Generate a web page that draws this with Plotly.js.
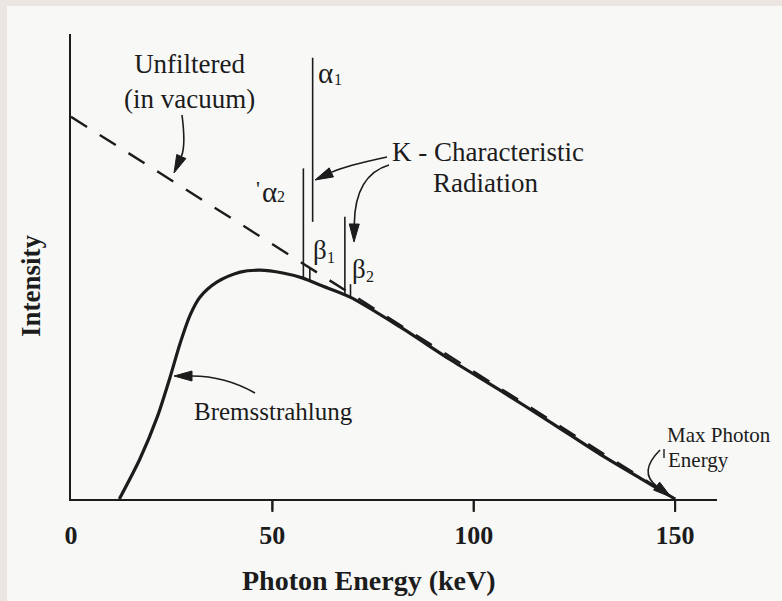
<!DOCTYPE html>
<html>
<head>
<meta charset="utf-8">
<script src="https://cdn.plot.ly/plotly-3.0.1.min.js"></script>
<style>
  html, body { margin: 0; padding: 0; background: #ebe6e2; width: 782px; height: 601px; overflow: hidden; }
  #chart { position: absolute; left: 7px; top: 6px; width: 775px; height: 595px; background: #f8f8f7; }
</style>
</head>
<body>
<div id="chart"></div>
<script>
// ---------------- data ----------------
const energyKeV      = [12.0, 17.1, 21.4, 24.6, 27.1, 29.6, 32.0, 36.3, 42.0, 46.9, 52.6, 57.6, 61.8, 69.3, 81.7, 94.1, 106.5, 118.9, 131.4, 141.3, 150];
const bremsIntensity = [0,    8.6,  17.6, 26.2, 33.5, 39.6, 43.4, 46.7, 48.8, 49.2, 48.6, 47.5, 46.0, 43.4, 37.0, 30.0, 23.4,  16.6,  9.6,   4.5,   0];

const unfilteredEnergy    = [0, 150];
const unfilteredIntensity = [82.2, 0];

// K-characteristic lines: energy, bottom and top intensity of each drawn segment
const kLineEnergy = [57.7, 60.0, 59.3, 68.0, 69.4];
const kLineBottom = [47.4, 59.6, 46.9, 44.0, 43.3];
const kLineTop    = [71.1, 94.9, 49.6, 60.7, 46.2];

const tickValues = [0, 50, 100, 150];
const tickLabels = ['0', '50', '100', '150'];
const tickMarkValues = [50, 100, 150];

// ---------------- layout constants ----------------
const W = 775, H = 595, OFF_X = 7, OFF_Y = 6;
const M = {l: 64, r: 65, t: 28, b: 102};
const X_MAX = 160.4, Y_MAX = 100;
const PX0 = OFF_X + M.l, PX1 = OFF_X + W - M.r;
const PY1 = OFF_Y + M.t, PY0 = OFF_Y + H - M.b;
const SX = (PX1 - PX0) / X_MAX, SY = (PY0 - PY1) / Y_MAX;
const dx = px => (px - PX0) / SX;
const dy = py => (PY0 - py) / SY;
const pxp = px => (px - PX0) / (PX1 - PX0);
const pyp = py => (PY0 - py) / (PY0 - PY1);

const INK = '#1c1c1c';
const PAPER = '#f8f8f7';
const SERIF = 'Liberation Serif, Times New Roman, serif';
const TICK_LEN = 13;

// K lines as one trace with gaps
const kx = [], ky = [];
kLineEnergy.forEach((e, i) => { kx.push(e, e, null); ky.push(kLineBottom[i], kLineTop[i], null); });

const traces = [
  {x: unfilteredEnergy, y: unfilteredIntensity, mode: 'lines', type: 'scatter', name: 'Unfiltered (in vacuum)',
   line: {color: INK, width: 2.4, dash: '19px,15px'}, cliponaxis: false, hoverinfo: 'skip'},
  {x: energyKeV, y: bremsIntensity, mode: 'lines', type: 'scatter', name: 'Bremsstrahlung',
   line: {color: INK, width: 3.2, shape: 'spline', smoothing: 0.8}, cliponaxis: false, hoverinfo: 'skip'},
  {x: kx, y: ky, mode: 'lines', type: 'scatter', name: 'K-characteristic',
   line: {color: INK, width: 1.6}, cliponaxis: false, hoverinfo: 'skip'}
];

const shapes = [];
// outward tick marks at 50, 100, 150 (none under the origin, as in the reference)
tickMarkValues.forEach(v => shapes.push({type: 'line', xref: 'paper', yref: 'paper', layer: 'above',
  x0: v / X_MAX, x1: v / X_MAX, y0: 0, y1: -TICK_LEN / (PY0 - PY1), line: {color: INK, width: 2}}));

// ---------------- decorations: curved arrows (page pixel coords) ----------------
const arrows = [
  {p0: [182, 115], c: [186, 146], p1: [174, 173]},
  {p0: [387, 157], c: [345, 166], p1: [315, 180]},
  {p0: [389, 165], c: [355, 175], p1: [354, 242]},
  {p0: [255, 393], c: [225, 376], p1: [174, 376]},
  {p0: [660, 450], c: [638, 472], p1: [671, 497]}
];
const HL = 18, HW = 5;
arrows.forEach(a => {
  const tx = a.p1[0] - a.c[0], ty = a.p1[1] - a.c[1];
  const n = Math.hypot(tx, ty), ux = tx / n, uy = ty / n;
  const bx = a.p1[0] - HL * ux, by = a.p1[1] - HL * uy;
  const nx = -uy, ny = ux;
  shapes.push({type: 'path', xref: 'x', yref: 'y', layer: 'above',
    path: `M ${dx(a.p0[0])},${dy(a.p0[1])} Q ${dx(a.c[0])},${dy(a.c[1])} ${dx(bx)},${dy(by)}`,
    line: {color: INK, width: 1.6}});
  shapes.push({type: 'path', xref: 'x', yref: 'y', layer: 'above',
    path: `M ${dx(a.p1[0])},${dy(a.p1[1])} L ${dx(bx + HW * nx)},${dy(by + HW * ny)} L ${dx(bx - HW * nx)},${dy(by - HW * ny)} Z`,
    fillcolor: INK, line: {color: INK, width: 1}});
});
// small stroke before "Energy"
shapes.push({type: 'line', xref: 'x', yref: 'y', layer: 'above',
  x0: dx(664), x1: dx(664), y0: dy(449), y1: dy(458), line: {color: INK, width: 1.4}});

// ---------------- text labels (page pixel coords) ----------------
const labels = [
  {t: 'Unfiltered<br>(in vacuum)', x: 189, y: 81, xa: 'center', s: 27},
  {t: 'K - Characteristic', x: 488, y: 152, xa: 'center', s: 27},
  {t: 'Radiation', x: 485, y: 183, xa: 'center', s: 27},
  {t: 'Bremsstrahlung', x: 273, y: 411, xa: 'center', s: 25},
  {t: 'Max Photon', x: 665, y: 435, xa: 'left', s: 21},
  {t: 'Energy', x: 666, y: 460, xa: 'left', s: 21},
  {t: 'α', x: 325.5, y: 73, xa: 'center', s: 29},
  {t: '1', x: 338, y: 79, xa: 'center', s: 16},
  {t: "'", x: 258, y: 188, xa: 'center', s: 22},
  {t: 'α', x: 269, y: 191.5, xa: 'center', s: 29},
  {t: '2', x: 281, y: 196.5, xa: 'center', s: 16},
  {t: 'β', x: 320, y: 250, xa: 'center', s: 27},
  {t: '1', x: 331, y: 257, xa: 'center', s: 16},
  {t: 'β', x: 358.5, y: 268.5, xa: 'center', s: 27},
  {t: '2', x: 370, y: 276, xa: 'center', s: 16},
  {t: 'Photon Energy (keV)', x: 369, y: 580, xa: 'center', s: 28, b: true},
  {t: 'Intensity', x: 31, y: 286, xa: 'center', s: 27, b: true, rot: -90}
];
const annotations = labels.map(L => ({
  text: L.t, x: pxp(L.x), y: pyp(L.y), xref: 'paper', yref: 'paper', showarrow: false,
  xanchor: L.xa, yanchor: 'middle', align: L.xa === 'left' ? 'left' : 'center',
  textangle: L.rot || 0,
  font: {family: SERIF, size: L.s, color: INK, weight: L.b ? 'bold' : 'normal'}
}));
// tick marks also drawn as annotation arrow stems (not clipped to the plot area)
tickMarkValues.forEach(v => annotations.push({
  x: v, y: 0, xref: 'x', yref: 'y', text: '', showarrow: true, arrowhead: 0,
  arrowwidth: 2, arrowcolor: INK, ax: 0, ay: TICK_LEN, standoff: 0, startstandoff: 0
}));

const layout = {
  width: W, height: H, margin: M,
  paper_bgcolor: PAPER, plot_bgcolor: 'rgba(0,0,0,0)',
  showlegend: false,
  xaxis: {range: [0, X_MAX], showgrid: false, zeroline: false, showline: true, linecolor: INK, linewidth: 2,
    tickmode: 'array', tickvals: tickValues, ticktext: tickLabels, ticks: '', ticklabelstandoff: 12,
    tickfont: {family: SERIF, size: 26, color: INK, weight: 'bold'}, fixedrange: true},
  yaxis: {range: [0, Y_MAX], showgrid: false, zeroline: false, showline: true, linecolor: INK, linewidth: 2,
    showticklabels: false, ticks: '', fixedrange: true},
  shapes: shapes,
  annotations: annotations
};

Plotly.newPlot('chart', traces, layout, {displayModeBar: false, staticPlot: true});
</script>
</body>
</html>
